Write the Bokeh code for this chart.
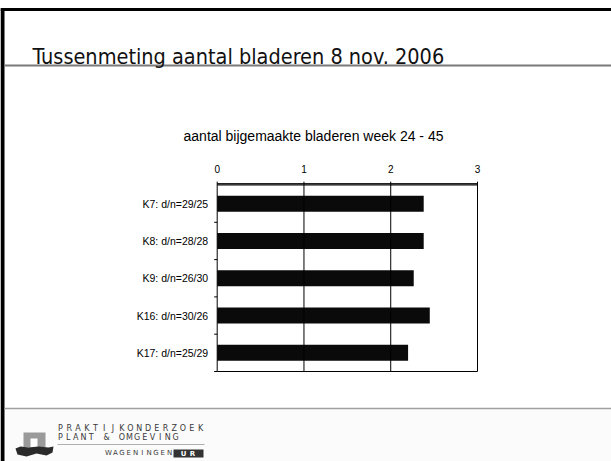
from bokeh.plotting import figure
from bokeh.models import Range1d, ColumnDataSource
from bokeh.core.properties import value
from bokeh.embed import file_html
from bokeh.resources import INLINE

# ---------------- data ----------------
slide_title = "Tussenmeting aantal bladeren 8 nov. 2006"
chart_title = "aantal bijgemaakte bladeren week 24 - 45"
categories = ["K7: d/n=29/25", "K8: d/n=28/28", "K9: d/n=26/30",
              "K16: d/n=30/26", "K17: d/n=25/29"]
leaves = [2.38, 2.38, 2.265, 2.45, 2.20]
x_ticks = [0, 1, 2, 3]
x_tick_labels = ["0", "1", "2", "3"]
x_max = 3

# ---------------- layout constants (page pixels) ----------------
W, H = 611, 461
PX0, PX1 = 216.7, 477.0     # pixel of value 0 and value x_max
PY0, PY1 = 184.5, 371.0     # pixel top / bottom of category band

p = figure(width=W, height=H, output_backend="svg", toolbar_location=None,
           x_range=Range1d(0, W), y_range=Range1d(H, 0),
           x_axis_type=None, y_axis_type=None, min_border=0)
p.outline_line_color = None
p.background_fill_color = "white"
p.border_fill_color = "white"

kx = (PX1 - PX0) / x_max
n = len(categories)
ky = (PY1 - PY0) / n
p.extra_x_ranges = {"val": Range1d(-PX0 / kx, (W - PX0) / kx)}
p.extra_y_ranges = {"cat": Range1d((H - PY0) / ky, -PY0 / ky)}

SANS = value("Liberation Sans")
LOGO = value("DejaVu Sans")

# ---------------- slide decorations ----------------
p.quad(left=[5], right=[W], top=[409], bottom=[H], fill_color="#fbfbfb", line_color=None)
p.segment(x0=[0], y0=[9], x1=[W], y1=[9], line_color="black", line_width=3)
p.segment(x0=[2], y0=[8], x1=[2], y1=[H], line_color="black", line_width=4)
p.segment(x0=[4], y0=[65], x1=[W], y1=[65], line_color="#7a7a7a", line_width=2)
p.segment(x0=[4], y0=[408], x1=[W], y1=[408], line_color="#a0a0a0", line_width=1.5)

p.text(x=[32], y=[55.5], text=[slide_title], text_font=value("DejaVu Sans Condensed"),
       text_font_size="21.5px", text_color="#111111", text_baseline="middle",
       text_align="left")

# logo: icon
p.quad(left=[23], right=[45], top=[432], bottom=[447], fill_color="#9a9a9a", line_color=None)
p.quad(left=[30], right=[37], top=[438], bottom=[447], fill_color="white", line_color=None)
p.patch(x=[15, 20, 28, 38, 48, 53, 52, 46, 36, 26, 17],
        y=[448, 446, 447, 446, 447, 446, 452, 455, 453, 456, 454],
        fill_color="#2a2a2a", line_color=None)

# logo: letter-spaced words
def spaced(word, x_first, x_last, y, size, color="#3a3a3a", style="normal"):
    chars = [c for c in word]
    m = len(chars)
    step = (x_last - x_first) / (m - 1)
    xs = [x_first + i * step for i in range(m)]
    p.text(x=xs, y=[y] * m, text=chars, text_font=LOGO, text_font_size=size,
           text_color=color, text_align="center", text_baseline="middle",
           text_font_style=style)

spaced("PRAKTIJKONDERZOEK", 60, 200, 428, "8px")
spaced("PLANT & OMGEVING", 60, 175, 436.5, "8px")
p.segment(x0=[57], y0=[444], x1=[204], y1=[444], line_color="#b0b0b0", line_width=1)
spaced("WAGENINGEN", 108, 169, 452.7, "7px")
p.quad(left=[173], right=[203], top=[449], bottom=[457], fill_color="#333333", line_color=None)
spaced("UR", 183, 192, 453, "7px", color="white", style="bold")

# ---------------- chart ----------------
centers = [i + 0.5 for i in range(n)]
src = ColumnDataSource(dict(y=centers, right=leaves, cat=categories))

p.hbar(y="y", left=0, right="right", height=0.43, source=src,
       x_range_name="val", y_range_name="cat",
       fill_color="#0a0a0a", line_color=None)

# plot box and vertical gridlines
inner = x_ticks[1:-1]
p.segment(x0=[0, 0, 0, x_max] + inner,
          y0=[0, n, 0, 0] + [0] * len(inner),
          x1=[x_max, x_max, 0, x_max] + inner,
          y1=[0, n, n, n] + [n] * len(inner),
          x_range_name="val", y_range_name="cat",
          line_color="black", line_width=1)
# top axis a bit heavier
p.segment(x0=[0], y0=[-0.03], x1=[x_max], y1=[-0.03], x_range_name="val", y_range_name="cat",
          line_color="#222222", line_width=1.6)
# tick marks on the top axis
p.segment(x0=x_ticks, y0=[-0.09] * len(x_ticks), x1=x_ticks, y1=[0] * len(x_ticks),
          x_range_name="val", y_range_name="cat", line_color="black", line_width=1)
# tick marks on category axis (between categories)
bounds = list(range(1, n + 1))
p.segment(x0=[-0.035] * len(bounds), y0=bounds, x1=[0] * len(bounds), y1=bounds,
          x_range_name="val", y_range_name="cat", line_color="black", line_width=1)

# value tick labels
p.text(x=x_ticks, y=[168] * len(x_ticks), text=x_tick_labels, x_range_name="val",
       text_font=SANS, text_font_size="10px", text_color="black",
       text_align="center", text_baseline="middle")
# category labels
p.text(x=[-0.104] * n, y=centers, text=categories, x_range_name="val", y_range_name="cat",
       text_font=SANS, text_font_size="10.5px", text_color="black",
       text_align="right", text_baseline="middle")
# chart title
p.text(x=[313], y=[135.5], text=[chart_title], text_font=SANS, text_font_size="14px",
       text_color="black", text_align="center", text_baseline="middle")

open("out.html", "w").write(file_html(p, INLINE))
